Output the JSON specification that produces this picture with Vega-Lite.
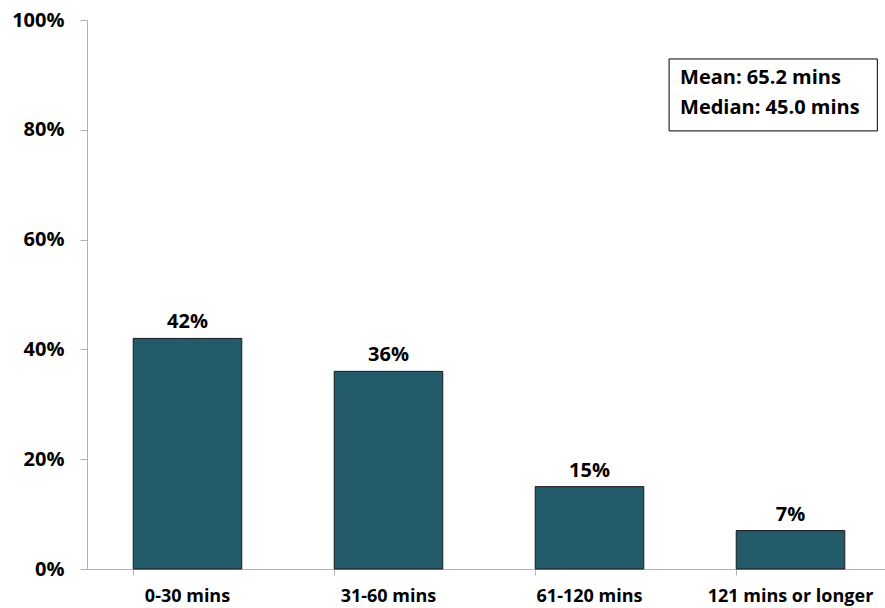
{
  "$schema": "https://vega.github.io/schema/vega-lite/v6.json",
  "autosize": {"type": "none"},
  "width": 804,
  "height": 549,
  "padding": {"left": 87, "top": 20, "right": 0, "bottom": 39},
  "background": "white",
  "config": {
    "view": {"stroke": null},
    "font": "Open Sans",
    "axis": {"labelFont": "Open Sans", "labelFontWeight": "bold", "labelColor": "#000000", "domainColor": "#b3b3b3", "tickColor": "#b3b3b3", "grid": false, "title": null}
  },
  "datasets": {
    "bars": [
      {"category": "0-30 mins", "pct": 42},
      {"category": "31-60 mins", "pct": 36},
      {"category": "61-120 mins", "pct": 15},
      {"category": "121 mins or longer", "pct": 7}
    ],
    "box": [
      {"bx1": 0.724, "bx2": 0.983, "by1": 79.8, "by2": 92.9}
    ],
    "notes": [
      {"tx": 0.7376, "ty": 89.4, "note": "Mean: 65.2 mins"},
      {"tx": 0.7376, "ty": 84.0, "note": "Median: 45.0 mins"}
    ]
  },
  "layer": [
    {
      "data": {"name": "bars"},
      "layer": [
        {
          "mark": {"type": "bar", "color": "#245b6a", "stroke": "#1a1a1a", "strokeWidth": 1},
          "encoding": {
            "x": {
              "field": "category", "type": "nominal", "sort": null,
              "scale": {"paddingInner": 0.46, "paddingOuter": 0.23},
              "axis": {"labelAngle": 0, "labelFontSize": 18, "tickSize": 6, "bandPosition": 0, "labelPadding": 12, "domainWidth": 1}
            },
            "y": {
              "field": "pct", "type": "quantitative",
              "scale": {"domain": [0, 100]},
              "axis": {"values": [0, 20, 40, 60, 80, 100], "labelExpr": "datum.value + '%'", "labelFontSize": 20, "tickSize": 7, "labelPadding": 16}
            }
          }
        },
        {
          "mark": {"type": "text", "baseline": "bottom", "dy": -6, "fontSize": 20, "fontWeight": "bold", "color": "#000000"},
          "encoding": {
            "x": {"field": "category", "type": "nominal", "sort": null},
            "y": {"field": "pct", "type": "quantitative"},
            "text": {"field": "label"}
          },
          "transform": [{"calculate": "datum.pct + '%'", "as": "label"}]
        }
      ]
    },
    {
      "data": {"name": "box"},
      "mark": {"type": "rect", "fill": "white", "stroke": "#000000", "strokeWidth": 1},
      "encoding": {
        "x": {"field": "bx1", "type": "quantitative", "scale": {"domain": [0, 1]}, "axis": null},
        "x2": {"field": "bx2"},
        "y": {"field": "by1", "type": "quantitative"},
        "y2": {"field": "by2"}
      }
    },
    {
      "data": {"name": "notes"},
      "mark": {"type": "text", "align": "left", "baseline": "middle", "fontSize": 20, "fontWeight": "bold", "color": "#000000"},
      "encoding": {
        "x": {"field": "tx", "type": "quantitative", "scale": {"domain": [0, 1]}, "axis": null},
        "y": {"field": "ty", "type": "quantitative"},
        "text": {"field": "note"}
      }
    }
  ],
  "resolve": {"scale": {"x": "independent"}}
}
